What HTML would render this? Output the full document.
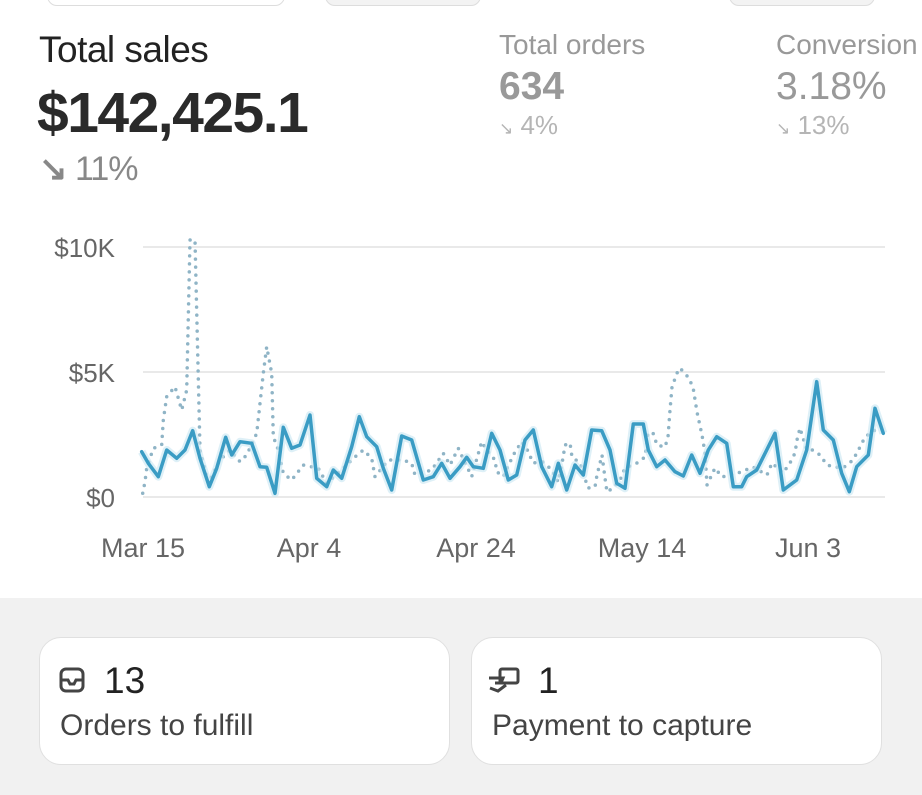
<!DOCTYPE html>
<html><head><meta charset="utf-8"><style>
*{margin:0;padding:0;box-sizing:border-box}
body{width:922px;height:795px;overflow:hidden;background:#fff;font-family:"Liberation Sans",sans-serif;position:relative}
.a{position:absolute;white-space:nowrap}
.card{position:absolute;top:637px;width:411px;height:128px;background:#fff;border:1.5px solid #e0e0e0;border-radius:22px}
</style></head><body>
<div class="a" style="left:47px;top:-14px;width:238px;height:20px;border:1.5px solid #ddd;border-radius:10px"></div>
<div class="a" style="left:325px;top:-14px;width:156px;height:20px;border:1.5px solid #ddd;border-radius:10px;background:#f3f3f3"></div>
<div class="a" style="left:729px;top:-14px;width:146px;height:20px;border:1.5px solid #ddd;border-radius:10px;background:#f3f3f3"></div>

<div class="a" style="left:39px;top:29px;font-size:37px;color:#222;letter-spacing:-0.5px">Total sales</div>
<div class="a" style="left:37px;top:80px;font-size:57px;font-weight:bold;color:#2a2a2a;letter-spacing:-1.5px">$142,425.1</div>
<div class="a" style="left:39px;top:149px;font-size:34px;color:#888;letter-spacing:-1px"><span style="font-weight:bold">↘</span> 11%</div>

<div class="a" style="left:499px;top:29px;font-size:28px;color:#999">Total orders</div>
<div class="a" style="left:499px;top:65px;font-size:39px;color:#999;font-weight:bold">634</div>
<div class="a" style="left:499px;top:110px;font-size:26px;color:#b5b5b5"><span style="font-size:17px">↘</span> 4%</div>
<div class="a" style="left:776px;top:29px;font-size:28px;color:#999">Conversion</div>
<div class="a" style="left:776px;top:65px;font-size:39px;color:#999">3.18%</div>
<div class="a" style="left:776px;top:110px;font-size:26px;color:#b5b5b5"><span style="font-size:17px">↘</span> 13%</div>

<svg class="a" style="left:0;top:0" width="922" height="600">
<g stroke="#e2e2e2" stroke-width="1.5"><line x1="143" y1="247" x2="885" y2="247"/><line x1="143" y1="372" x2="885" y2="372"/><line x1="143" y1="497" x2="885" y2="497"/></g>
<g font-family="Liberation Sans" font-size="26" fill="#666">
<text x="115" y="257" text-anchor="end">$10K</text><text x="115" y="382" text-anchor="end">$5K</text><text x="115" y="507" text-anchor="end">$0</text></g>
<g font-family="Liberation Sans" font-size="27" fill="#666">
<text x="143" y="557" text-anchor="middle">Mar 15</text><text x="309" y="557" text-anchor="middle">Apr 4</text><text x="476" y="557" text-anchor="middle">Apr 24</text><text x="642" y="557" text-anchor="middle">May 14</text><text x="808" y="557" text-anchor="middle">Jun 3</text></g>
<polyline fill="none" stroke="#8fb4c6" stroke-width="3.5" stroke-linecap="round" stroke-dasharray="0 8" points="142.7,493.3 145,481.7 146.7,468.3 153.3,448.3 161.7,445 163.3,420 166.7,396.7 175,386.7 181.7,410 186.7,390 190,240 195,240 200,450 208.3,483.3 220,460 230,450 240,461.7 246.7,455 256.7,433.3 263.3,373.3 266.7,346.7 271.7,373.3 273.3,436.7 278.3,450 283.3,473.3 291.7,480 303.3,465 318.3,468.3 326.7,483.3 343.3,468.3 353.3,458.3 363.3,450 371.7,458.3 375,476.7 388.3,460 403.3,460 411.7,463.3 415,475 431.7,470 443.3,453.3 450,465 458.3,448.3 471.7,476.7 481.7,441.7 486.7,450 495,460 496.7,471.7 503.3,476.7 513.3,455 521.7,441.7 528,451 533,463 543,462 552,470 558,482 563,458 565,445 570,443 572,457 580,463 588,488 595,487 597,475 602,455 605,478 607,492 613,488 620,480 625,468 637,463 645,457 648,433 653,433 657,445 665,447 668,437 670,410 672,387 677,373 680,368 688,377 693,387 697,412 702,435 705,453 707,485 715,468 722,477 738,473 753,467 767,475 772,463 783,473 790,463 795,453 797,440 800,428 803,438 807,450 813,450 820,455 827,465 835,467 843,468 853,460 860,447 865,437 875,430 882,430"/>
<polyline fill="none" stroke="#c8e6f2" stroke-width="8" stroke-linejoin="round" opacity=".6" points="141.7,451.7 148.3,463.3 158.3,476.7 166.7,450 176.7,458.3 185,450 192.7,430.7 200,458.3 209.3,486.7 216.7,468.3 225.7,437.3 231.7,455 240,441.7 251.7,443.3 260,466.7 266.7,467.3 275,493.3 283.3,427.3 291.7,448.3 300,445 310,415 316.7,478.3 326.7,486.7 333.3,470 341.7,478.3 351.7,446.7 359.3,416.7 366.7,436.7 376.7,446.7 383.3,468.3 391.7,490 401.7,436 411.7,440 423.3,480 433.3,476.7 441.7,463.3 450,478.3 460,466.7 466.7,457.3 473.3,466.7 483.3,468.3 491.7,433.3 500,450 508.3,480 516.7,475 525,440 533.3,430 541.7,466.7 551.7,486.7 558.3,463.3 566.7,490 575,465 583.3,475 591.7,430 601.7,430.7 610,450 616.7,483.3 625,488.3 633.3,424 643.3,424 648.3,450 656.7,466.7 665,460 675,471.7 683.3,476 691.7,455 700,473.3 708.3,450 716.7,436.7 726.7,443.3 733.3,486.7 741.7,486.7 746.7,476.7 756.7,470 766.7,450 775,433.3 783.3,490 796.7,480 806.7,450 816.7,381.7 823.3,430 833.3,440 841.7,473.3 849.3,491.7 856.7,466.7 868.3,455 875,408.3 883.3,433.3"/>
<polyline fill="none" stroke="#3a9cc4" stroke-width="3.5" stroke-linejoin="round" stroke-linecap="round" points="141.7,451.7 148.3,463.3 158.3,476.7 166.7,450 176.7,458.3 185,450 192.7,430.7 200,458.3 209.3,486.7 216.7,468.3 225.7,437.3 231.7,455 240,441.7 251.7,443.3 260,466.7 266.7,467.3 275,493.3 283.3,427.3 291.7,448.3 300,445 310,415 316.7,478.3 326.7,486.7 333.3,470 341.7,478.3 351.7,446.7 359.3,416.7 366.7,436.7 376.7,446.7 383.3,468.3 391.7,490 401.7,436 411.7,440 423.3,480 433.3,476.7 441.7,463.3 450,478.3 460,466.7 466.7,457.3 473.3,466.7 483.3,468.3 491.7,433.3 500,450 508.3,480 516.7,475 525,440 533.3,430 541.7,466.7 551.7,486.7 558.3,463.3 566.7,490 575,465 583.3,475 591.7,430 601.7,430.7 610,450 616.7,483.3 625,488.3 633.3,424 643.3,424 648.3,450 656.7,466.7 665,460 675,471.7 683.3,476 691.7,455 700,473.3 708.3,450 716.7,436.7 726.7,443.3 733.3,486.7 741.7,486.7 746.7,476.7 756.7,470 766.7,450 775,433.3 783.3,490 796.7,480 806.7,450 816.7,381.7 823.3,430 833.3,440 841.7,473.3 849.3,491.7 856.7,466.7 868.3,455 875,408.3 883.3,433.3"/>
</svg>

<div class="a" style="left:0;top:598px;width:922px;height:197px;background:#f1f1f1"></div>
<div class="card" style="left:39px"></div>
<div class="card" style="left:471px"></div>
<svg class="a" style="left:58px;top:666px" width="30" height="30"><rect x="3" y="3" width="22" height="22" rx="5" fill="none" stroke="#444" stroke-width="3"/><path d="M4 14h6l2 4h4l2-4h6" fill="none" stroke="#444" stroke-width="3"/></svg>
<div class="a" style="left:104px;top:660px;font-size:37px;color:#222">13</div>
<div class="a" style="left:60px;top:709px;font-size:30px;color:#444">Orders to fulfill</div>
<svg class="a" style="left:486px;top:666px" width="38" height="30"><rect x="14" y="3" width="18" height="14" rx="2" fill="none" stroke="#444" stroke-width="3"/><path d="M3 12h14l-2 5h-6M4 22l8 3 8-6" fill="none" stroke="#444" stroke-width="3"/></svg>
<div class="a" style="left:538px;top:660px;font-size:37px;color:#222">1</div>
<div class="a" style="left:492px;top:709px;font-size:30px;color:#444">Payment to capture</div>
</body></html>
